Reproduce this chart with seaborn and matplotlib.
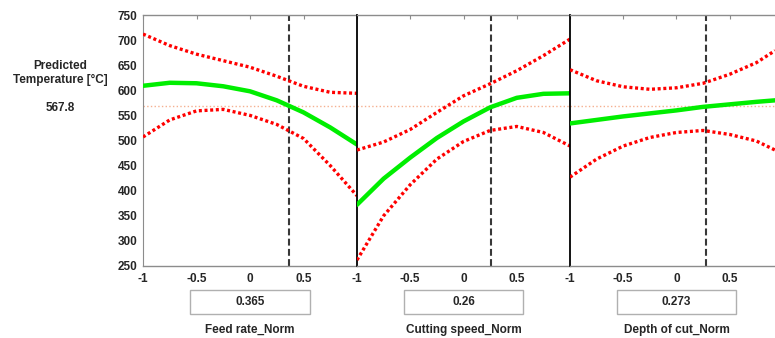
import matplotlib
matplotlib.use("Agg")
import matplotlib.pyplot as plt
import matplotlib.transforms as mtransforms
from matplotlib.patches import Rectangle
import seaborn as sns

# predicted value and current settings
predicted = 567.8
factor_names = ["Feed rate_Norm", "Cutting speed_Norm", "Depth of cut_Norm"]
factor_values = [0.365, 0.26, 0.273]
factor_labels = ["0.365", "0.26", "0.273"]

# response traces
x_full = [-1, -0.75, -0.5, -0.25, 0, 0.25, 0.5, 0.75, 1]
x_cut = [-1, -0.75, -0.5, -0.25, 0, 0.25, 0.5, 0.75, 0.925]

feed_fit = [609, 615, 614, 608, 598, 580, 556, 526, 492]
feed_hi = [712, 689, 672, 659, 646, 628, 608, 596, 594]
feed_lo = [507, 541, 559, 562, 550, 532, 504, 450, 390]

speed_fit = [372, 424, 466, 505, 538, 566, 585, 593, 594]
speed_hi = [481, 497, 522, 556, 589, 613, 639, 669, 702]
speed_lo = [262, 350, 412, 463, 498, 520, 528, 516, 489]

depth_fit = [534, 541, 548, 554, 560, 567, 572, 577, 580]
depth_hi = [641, 619, 607, 602, 605, 614, 632, 655, 679]
depth_lo = [427, 463, 489, 506, 516, 520, 512, 499, 481]

y_ticks = [250, 300, 350, 400, 450, 500, 550, 600, 650, 700, 750]

sns.set_style("white")
plt.rcParams["font.family"] = ["Liberation Sans", "DejaVu Sans"]
plt.rcParams["font.weight"] = "bold"

W, H = 775, 338
fig = plt.figure(figsize=(W / 100, H / 100), dpi=100)

bottom = 1 - 266 / H
height = 251 / H
panels = [
    (143, 214, x_full, feed_fit, feed_hi, feed_lo, 1.0),
    (357, 213, x_full, speed_fit, speed_hi, speed_lo, 1.0),
    (570, 205, x_cut, depth_fit, depth_hi, depth_lo, 0.925),
]

gray = "#8c8c8c"
dots = (0, (0.9, 0.8))
for i, (left, width, xs, fit, hi, lo, xmax) in enumerate(panels):
    ax = fig.add_axes([left / W, bottom, width / W, height])
    ax.axhline(predicted, color="#f5b090", lw=1, ls=":", zorder=1)
    sns.lineplot(x=xs, y=hi, ax=ax, color="#ff0000", lw=2.4, ls=dots, zorder=3)
    sns.lineplot(x=xs, y=lo, ax=ax, color="#ff0000", lw=2.4, ls=dots, zorder=3)
    sns.lineplot(x=xs, y=fit, ax=ax, color="#00ee00", lw=3.2, zorder=4)
    ax.axvline(factor_values[i], color="#383838", lw=1.5, ls=(0, (3.3, 1.6)), zorder=2)

    ax.set_xlim(-1, xmax)
    ax.set_ylim(250, 750)
    xt = [-1, -0.5, 0, 0.5, 1] if xmax >= 1 else [-1, -0.5, 0, 0.5]
    ax.set_xticks(xt)
    ax.set_xticklabels(["-1", "-0.5", "0", "0.5", ""][:len(xt)],
                       fontsize=8.5, fontweight="bold")
    ax.tick_params(axis="x", direction="in", top=True, length=3, color=gray, pad=5)
    ax.set_yticks(y_ticks)
    if i == 0:
        ax.set_yticklabels([str(v) for v in y_ticks], fontsize=8.5, fontweight="bold")
        ax.tick_params(axis="y", direction="in", length=3, color=gray, pad=4)
        ax.spines["left"].set_color(gray)
    else:
        ax.set_yticklabels([])
        ax.tick_params(axis="y", direction="inout", length=6, color="black")
        ax.spines["left"].set_color("black")
        ax.spines["left"].set_linewidth(1.3)
    ax.spines["right"].set_visible(False)
    for s in ("top", "bottom"):
        ax.spines[s].set_color(gray)
        ax.spines[s].set_linewidth(1)
    ax.set_xlabel("")
    ax.set_ylabel("")

    trans = mtransforms.blended_transform_factory(ax.transData, ax.transAxes)
    box = Rectangle((-0.56, -0.191), 1.12, 0.096, transform=trans, fill=False,
                    edgecolor="#b0b0b0", lw=1, clip_on=False)
    ax.add_patch(box)
    ax.text(0, -0.143, factor_labels[i], transform=trans, ha="center", va="center",
            fontsize=8.5, fontweight="bold")
    ax.text(0, -0.255, factor_names[i], transform=trans, ha="center", va="center",
            fontsize=8.5, fontweight="bold")

fig.text(60 / W, 1 - 66 / H, "Predicted", ha="center", va="center",
         fontsize=8.5, fontweight="bold")
fig.text(60 / W, 1 - 80 / H, "Temperature [°C]", ha="center", va="center",
         fontsize=8.5, fontweight="bold")
fig.text(60 / W, 1 - 108 / H, f"{predicted}", ha="center", va="center",
         fontsize=8.5, fontweight="bold")

fig.savefig("out.png", dpi=100)
